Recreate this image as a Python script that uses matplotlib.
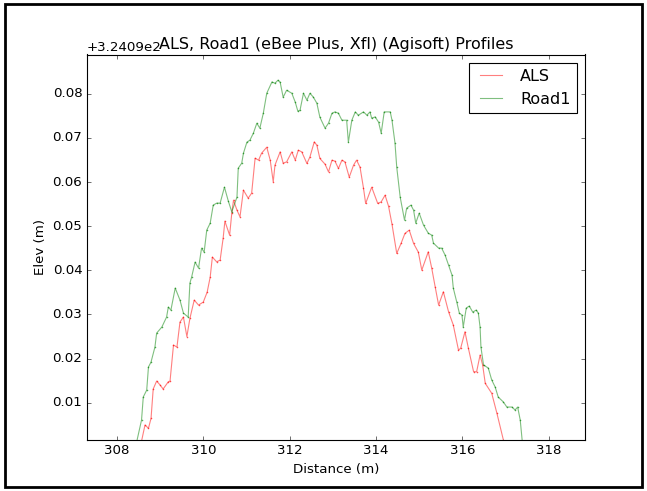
import matplotlib
matplotlib.use("Agg")
import matplotlib.pyplot as plt
import numpy as np
from matplotlib.patches import Rectangle
from matplotlib.ticker import ScalarFormatter

# elevations are stored relative to this base (m)
ELEV_BASE = 324.09

als_dist = [308.54, 308.65, 308.73, 308.79, 308.84, 308.92, 309.00, 309.07, 309.19, 309.23,
            309.31, 309.39, 309.46, 309.54, 309.62, 309.69, 309.79, 309.89, 310.00, 310.09,
            310.16, 310.21, 310.31, 310.39, 310.46, 310.50, 310.61, 310.66, 310.70, 310.78,
            310.85, 310.93, 311.04, 311.12, 311.20, 311.28, 311.35, 311.47, 311.55, 311.62,
            311.66, 311.78, 311.85, 311.93, 312.05, 312.13, 312.20, 312.28, 312.40, 312.47,
            312.57, 312.63, 312.70, 312.82, 312.90, 312.98, 313.05, 313.13, 313.21, 313.28,
            313.38, 313.48, 313.55, 313.63, 313.71, 313.76, 313.90, 314.04, 314.12, 314.21,
            314.29, 314.37, 314.48, 314.58, 314.67, 314.77, 314.87, 314.98, 315.06, 315.21,
            315.29, 315.37, 315.45, 315.56, 315.68, 315.79, 315.91, 315.96, 316.06, 316.14,
            316.26, 316.33, 316.41, 316.47, 316.53, 316.68, 316.80, 316.95, 316.99]
als_elev = [-0.0001, 0.00493, 0.00418, 0.00644, 0.01308, 0.01489, 0.01399, 0.01308, 0.01473, 0.01489,
            0.02305, 0.02259, 0.02826, 0.02939, 0.02497, 0.02909, 0.03324, 0.03211, 0.03279, 0.03505,
            0.03845, 0.04298, 0.04191, 0.04230, 0.04728, 0.05113, 0.04796, 0.05294, 0.05589, 0.05362,
            0.05211, 0.05815, 0.05634, 0.05747, 0.06540, 0.06495, 0.06653, 0.06789, 0.06495, 0.06003,
            0.06382, 0.06683, 0.06427, 0.06456, 0.06683, 0.06495, 0.06721, 0.06683, 0.06420, 0.06570,
            0.06909, 0.06835, 0.06533, 0.06404, 0.06230, 0.06495, 0.06472, 0.06307, 0.06495, 0.06456,
            0.06110, 0.06382, 0.06495, 0.06336, 0.05861, 0.05514, 0.05883, 0.05514, 0.05550, 0.05702,
            0.05453, 0.05045, 0.04382, 0.04608, 0.04835, 0.04909, 0.04608, 0.04411, 0.04003, 0.04418,
            0.04049, 0.03625, 0.03211, 0.03512, 0.03059, 0.02758, 0.02191, 0.02230, 0.02606, 0.02230,
            0.01700, 0.01700, 0.02078, 0.01852, 0.01437, 0.01211, 0.00758, 0.00153, -0.0001]

road1_dist = [308.43, 308.57, 308.61, 308.69, 308.73, 308.79, 308.88, 308.92, 309.04, 309.15,
              309.19, 309.25, 309.35, 309.46, 309.54, 309.65, 309.69, 309.73, 309.81, 309.89,
              309.96, 310.02, 310.08, 310.16, 310.23, 310.31, 310.39, 310.49, 310.58, 310.66,
              310.78, 310.81, 310.89, 310.93, 311.01, 311.08, 311.16, 311.24, 311.31, 311.39,
              311.47, 311.59, 311.66, 311.73, 311.78, 311.85, 311.93, 312.05, 312.13, 312.19,
              312.24, 312.32, 312.40, 312.47, 312.55, 312.63, 312.70, 312.82, 312.90, 312.98,
              313.05, 313.13, 313.21, 313.32, 313.36, 313.44, 313.52, 313.59, 313.71, 313.79,
              313.86, 313.90, 313.98, 314.06, 314.12, 314.19, 314.33, 314.37, 314.44, 314.48,
              314.56, 314.66, 314.71, 314.81, 314.87, 314.92, 315.00, 315.10, 315.21, 315.29,
              315.33, 315.45, 315.52, 315.60, 315.68, 315.76, 315.79, 315.87, 315.93, 315.99,
              316.02, 316.09, 316.16, 316.24, 316.32, 316.37, 316.41, 316.43, 316.49, 316.60,
              316.68, 316.76, 316.83, 316.95, 317.03, 317.15, 317.22, 317.28, 317.34, 317.40]
road1_elev = [-0.0001, 0.00606, 0.01127, 0.01285, 0.01806, 0.01920, 0.02259, 0.02576, 0.02712, 0.02939,
              0.03165, 0.03097, 0.03596, 0.03324, 0.03029, 0.02939, 0.03709, 0.03845, 0.04185, 0.04049,
              0.04502, 0.04411, 0.04909, 0.05068, 0.05476, 0.05521, 0.05521, 0.05883, 0.05566, 0.05324,
              0.05657, 0.06314, 0.06427, 0.06653, 0.06903, 0.06948, 0.07106, 0.07333, 0.07220, 0.07559,
              0.08012, 0.08268, 0.08239, 0.08307, 0.08262, 0.07922, 0.08080, 0.08012, 0.07809, 0.07605,
              0.07627, 0.08012, 0.07854, 0.08012, 0.07922, 0.07786, 0.07469, 0.07220, 0.07333, 0.07559,
              0.07589, 0.07559, 0.07401, 0.07401, 0.06903, 0.07401, 0.07589, 0.07514, 0.07589, 0.07514,
              0.07589, 0.07446, 0.07476, 0.07356, 0.07106, 0.07589, 0.07589, 0.07401, 0.06880, 0.06336,
              0.05657, 0.05136, 0.05408, 0.05476, 0.05362, 0.05068, 0.05294, 0.05023, 0.04841, 0.04796,
              0.04615, 0.04502, 0.04502, 0.04343, 0.04117, 0.03890, 0.03596, 0.03279, 0.03029, 0.02984,
              0.02712, 0.03143, 0.03188, 0.03052, 0.03097, 0.03029, 0.02712, 0.02259, 0.01852, 0.01784,
              0.01512, 0.01353, 0.01127, 0.01014, 0.00900, 0.00900, 0.00832, 0.00900, 0.00606, -0.0001]

x_ticks = [308, 310, 312, 314, 316, 318]
y_ticks = [0.01, 0.02, 0.03, 0.04, 0.05, 0.06, 0.07, 0.08]

plt.style.use("classic")
plt.rcParams["figure.facecolor"] = "white"
plt.rcParams["savefig.facecolor"] = "white"

W, H = 647, 491
fig = plt.figure(figsize=(W / 80, H / 80), dpi=80)
ax = fig.add_axes([86.7 / W, 1 - 440 / H, (585 - 86.7) / W, (440 - 54.5) / H])

ax.plot(als_dist, ELEV_BASE + np.array(als_elev), color="r", alpha=0.5,
        marker=".", markersize=2, label="ALS")
ax.plot(road1_dist, ELEV_BASE + np.array(road1_elev), color="g", alpha=0.5,
        marker=".", markersize=2, label="Road1")

ax.set_xlim(307.30, 318.84)
ax.set_ylim(ELEV_BASE + 0.00153, ELEV_BASE + 0.0889)
ax.set_xticks(x_ticks)
ax.set_yticks(ELEV_BASE + np.array(y_ticks))
ax.yaxis.set_major_formatter(ScalarFormatter(useOffset=ELEV_BASE))

ax.set_title("ALS, Road1 (eBee Plus, Xfl) (Agisoft) Profiles")
ax.set_xlabel("Distance (m)")
ax.set_ylabel("Elev (m)")
leg = ax.legend(loc="upper right")
for handle in leg.get_lines():
    handle.set_marker("")

# black frame round the whole picture
fig.add_artist(Rectangle((5 / W, 4 / H), 637 / W, 483 / H, transform=fig.transFigure,
                         fill=False, edgecolor="black", linewidth=2.5))

fig.savefig("out.png", dpi=80)
